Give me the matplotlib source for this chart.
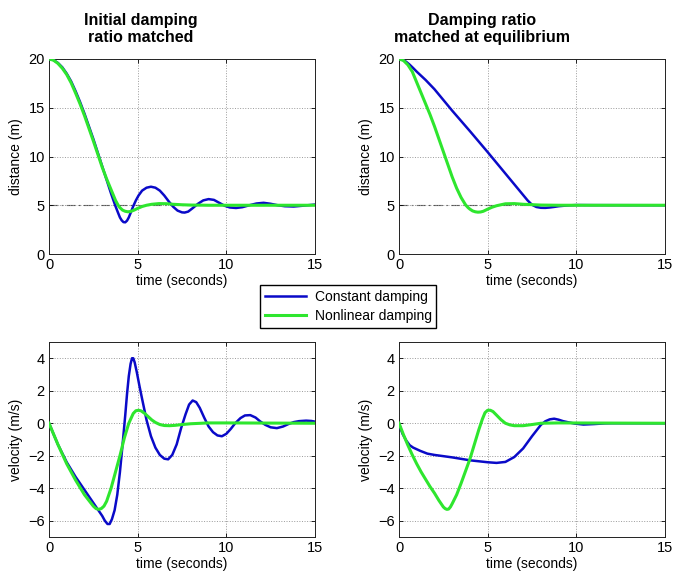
import matplotlib
matplotlib.use("Agg")
import matplotlib.pyplot as plt

plt.rcParams['font.family'] = ['Liberation Sans', 'DejaVu Sans']

# colours
BLUE = '#0a0ac8'
GREEN = '#2ee62e'

# --- top left: distance, initial damping ratio matched ---
tl_const_t = [0, 0.25, 0.5, 0.75, 1.0, 1.25, 1.5, 1.75, 2.0, 2.25, 2.5, 2.75, 3.0, 3.25, 3.5,
              3.75, 3.9, 4.0, 4.1, 4.2, 4.3, 4.4, 4.5, 4.6, 4.75, 4.9, 5.05, 5.25, 5.5, 5.75,
              6.0, 6.25, 6.5, 6.75, 7.0, 7.25, 7.5, 7.65, 7.85, 8.1, 8.4, 8.7, 9.0, 9.3, 9.6,
              9.9, 10.2, 10.55, 10.9, 11.3, 11.7, 12.1, 12.5, 12.9, 13.3, 13.8, 14.3, 15.0]
tl_const_x = [20, 19.9, 19.6, 19.15, 18.5, 17.7, 16.7, 15.6, 14.4, 13.1, 11.8, 10.4, 9.0, 7.6, 6.2,
              4.9, 4.2, 3.75, 3.45, 3.27, 3.25, 3.42, 3.75, 4.2, 4.9, 5.5, 6.0, 6.5, 6.8, 6.9,
              6.8, 6.5, 6.0, 5.4, 4.85, 4.45, 4.27, 4.25, 4.35, 4.7, 5.15, 5.5, 5.63, 5.55, 5.25,
              4.95, 4.77, 4.72, 4.8, 5.0, 5.18, 5.25, 5.15, 5.0, 4.9, 4.87, 4.95, 5.07]
tl_nonlin_t = [0, 0.25, 0.5, 0.75, 1.0, 1.25, 1.5, 1.75, 2.0, 2.25, 2.5, 2.75, 3.0, 3.25, 3.5,
               3.75, 3.9, 4.0, 4.15, 4.3, 4.45, 4.6, 4.8, 5.0, 5.25, 5.5, 5.8, 6.2, 6.6, 7.0,
               7.5, 8.0, 9.0, 15.0]
tl_nonlin_x = [20, 19.88, 19.55, 19.05, 18.4, 17.55, 16.5, 15.4, 14.2, 12.9, 11.6, 10.25, 8.9,
               7.7, 6.6, 5.5, 5.0, 4.75, 4.5, 4.38, 4.33, 4.36, 4.5, 4.68, 4.87, 5.0, 5.1, 5.17,
               5.16, 5.1, 5.05, 5.02, 5.0, 5.0]

# --- top right: distance, damping ratio matched at equilibrium ---
tr_const_t = [0, 0.2, 0.4, 0.6, 0.8, 1.0, 1.5, 2.0, 2.5, 3.0, 4.0, 5.0, 6.0, 6.5, 7.0, 7.25,
              7.5, 7.75, 8.0, 8.25, 8.5, 8.75, 9.0, 9.5, 10.0, 11.0, 15.0]
tr_const_x = [20, 19.92, 19.72, 19.42, 19.07, 18.7, 17.85, 16.9, 15.8, 14.7, 12.6, 10.45, 8.25,
              7.15, 6.05, 5.5, 5.05, 4.82, 4.74, 4.73, 4.77, 4.83, 4.9, 4.98, 5.02, 5.01, 5.0]
tr_nonlin_t = [0, 0.25, 0.5, 0.75, 1.0, 1.25, 1.5, 1.75, 2.0, 2.25, 2.5, 2.75, 3.0, 3.25,
               3.5, 3.75, 3.9, 4.0, 4.15, 4.3, 4.45, 4.6, 4.75, 5.0, 5.25, 5.5, 6.0, 6.5, 7.0,
               8.0, 9.0, 15.0]
tr_nonlin_x = [20, 19.85, 19.4, 18.7, 17.6, 16.5, 15.4, 14.3, 13.1, 11.8, 10.5, 9.2, 7.9, 6.75,
               5.8, 5.05, 4.75, 4.6, 4.42, 4.33, 4.29, 4.31, 4.38, 4.6, 4.8, 4.95, 5.15, 5.17,
               5.1, 5.02, 5.0, 5.0]

# --- bottom left: velocity, initial damping ratio matched ---
bl_const_t = [0, 0.5, 1.0, 1.5, 2.0, 2.5, 3.0, 3.15, 3.3, 3.42, 3.55, 3.7, 3.85, 4.0, 4.15,
              4.3, 4.4, 4.5, 4.6, 4.68, 4.75, 4.83, 4.95, 5.1, 5.25, 5.5, 5.75, 6.0, 6.25,
              6.5, 6.72, 6.95, 7.2, 7.45, 7.7, 7.9, 8.1, 8.3, 8.5, 8.75, 9.0, 9.25, 9.5, 9.75,
              10.0, 10.25, 10.5, 10.8, 11.05, 11.35, 11.65, 11.9, 12.2, 12.5, 12.85, 13.2,
              13.5, 13.8, 14.1, 14.5, 14.8, 15.0]
bl_const_v = [0, -1.3, -2.4, -3.3, -4.1, -4.9, -5.7, -6.0, -6.2, -6.2, -5.9, -5.35, -4.4, -3.0,
              -1.3, 0.5, 1.8, 2.9, 3.65, 4.0, 4.0, 3.75, 3.15, 2.3, 1.5, 0.2, -0.8, -1.5, -1.95,
              -2.18, -2.22, -1.95, -1.3, -0.3, 0.55, 1.15, 1.4, 1.3, 0.95, 0.35, -0.2, -0.55,
              -0.75, -0.8, -0.65, -0.35, 0.0, 0.32, 0.48, 0.5, 0.35, 0.12, -0.1, -0.25, -0.3,
              -0.2, -0.05, 0.07, 0.13, 0.16, 0.14, 0.1]
bl_nonlin_t = [0, 0.5, 1.0, 1.5, 2.0, 2.5, 2.65, 2.8, 2.95, 3.1, 3.25, 3.5, 3.75, 4.0, 4.25,
               4.5, 4.75, 4.9, 5.05, 5.2, 5.4, 5.6, 5.8, 6.0, 6.25, 6.5, 6.8, 7.1, 7.5, 8.0,
               9.0, 10.0, 15.0]
bl_nonlin_v = [0, -1.3, -2.5, -3.5, -4.4, -5.1, -5.25, -5.3, -5.25, -5.1, -4.8, -4.0, -3.0,
               -2.0, -0.9, 0.0, 0.6, 0.77, 0.8, 0.76, 0.6, 0.4, 0.2, 0.05, -0.08, -0.14, -0.15,
               -0.13, -0.08, -0.03, 0.02, 0.02, 0.0]

# --- bottom right: velocity, damping ratio matched at equilibrium ---
br_const_t = [0, 0.1, 0.2, 0.4, 0.6, 0.8, 1.2, 1.6, 2.0, 3.0, 4.0, 5.0, 5.5, 6.0, 6.5, 7.0,
              7.5, 7.75, 8.0, 8.25, 8.5, 8.75, 9.0, 9.25, 9.5, 9.9, 10.4, 11.0, 11.6, 12.0, 15.0]
br_const_v = [0, -0.35, -0.65, -1.05, -1.35, -1.5, -1.7, -1.87, -1.95, -2.1, -2.28, -2.4, -2.44,
              -2.38, -2.08, -1.55, -0.8, -0.45, -0.1, 0.12, 0.24, 0.28, 0.22, 0.13, 0.07, -0.02,
              -0.08, -0.05, -0.01, 0.0, 0.0]
br_nonlin_t = [0, 0.25, 0.5, 0.75, 1.0, 1.25, 1.5, 1.75, 2.0, 2.25, 2.5, 2.6, 2.7, 2.8, 2.9,
               3.0, 3.25, 3.5, 3.75, 4.0, 4.25, 4.5, 4.7, 4.85, 5.0, 5.15, 5.3, 5.5, 5.75, 6.0,
               6.25, 6.5, 7.0, 7.5, 8.0, 9.0, 15.0]
br_nonlin_v = [0, -0.7, -1.35, -1.95, -2.5, -3.0, -3.45, -3.9, -4.3, -4.75, -5.15, -5.25, -5.3,
               -5.28, -5.15, -4.95, -4.4, -3.7, -2.95, -2.2, -1.3, -0.4, 0.25, 0.65, 0.8, 0.8,
               0.72, 0.5, 0.22, 0.0, -0.1, -0.15, -0.15, -0.08, 0.0, 0.02, 0.0]

equilibrium = 5
titles = ['Initial damping\nratio matched', 'Damping ratio\nmatched at equilibrium']

fig = plt.figure(figsize=(6.73, 5.73), dpi=100)
W, H = 673, 573


def make_ax(left, top, right, bottom):
    return fig.add_axes([left / W, 1 - bottom / H, (right - left) / W, (bottom - top) / H])


ax_tl = make_ax(49, 59, 315, 254)
ax_tr = make_ax(399, 59, 665, 254)
ax_bl = make_ax(49, 342, 315, 537)
ax_br = make_ax(399, 342, 665, 537)

for ax in (ax_tl, ax_tr):
    ax.axhline(equilibrium, color='#555555', lw=0.8, ls=(0, (8, 3, 1.5, 3)), zorder=1)

lc, = ax_tl.plot(tl_const_t, tl_const_x, color=BLUE, lw=1.8, zorder=3)
ln, = ax_tl.plot(tl_nonlin_t, tl_nonlin_x, color=GREEN, lw=2.2, zorder=4)
ax_tr.plot(tr_const_t, tr_const_x, color=BLUE, lw=1.8, zorder=3)
ax_tr.plot(tr_nonlin_t, tr_nonlin_x, color=GREEN, lw=2.2, zorder=4)
ax_bl.plot(bl_const_t, bl_const_v, color=BLUE, lw=1.8, zorder=3)
ax_bl.plot(bl_nonlin_t, bl_nonlin_v, color=GREEN, lw=2.2, zorder=4)
ax_br.plot(br_const_t, br_const_v, color=BLUE, lw=1.8, zorder=3)
ax_br.plot(br_nonlin_t, br_nonlin_v, color=GREEN, lw=2.2, zorder=4)

for ax in (ax_tl, ax_tr, ax_bl, ax_br):
    ax.set_xlim(0, 15)
    ax.set_xticks([0, 5, 10, 15])
    ax.set_xlabel('time (seconds)', fontsize=10, labelpad=1)
    ax.grid(True, ls=':', color='#9a9a9a', lw=0.7)
    ax.tick_params(direction='in', top=True, right=True, length=3, width=0.6,
                   labelsize=10.5, pad=3)
    for s in ax.spines.values():
        s.set_linewidth(0.7)
        s.set_color('#222222')

for ax in (ax_tl, ax_tr):
    ax.set_ylim(0, 20)
    ax.set_yticks([0, 5, 10, 15, 20])
    ax.set_ylabel('distance (m)', fontsize=10, labelpad=4)

for ax in (ax_bl, ax_br):
    ax.set_ylim(-7, 5)
    ax.set_yticks([-6, -4, -2, 0, 2, 4])
    ax.set_ylabel('velocity (m/s)', fontsize=10, labelpad=4)

fig.text(141 / W, 1 - 29 / H, titles[0], ha='center', va='center',
         fontsize=11.5, fontweight='bold')
fig.text(482 / W, 1 - 29 / H, titles[1], ha='center', va='center',
         fontsize=11.5, fontweight='bold')

fig.legend([lc, ln], ['Constant damping', 'Nonlinear damping'], loc='center',
           bbox_to_anchor=(348 / W, 1 - 306.5 / H), fontsize=10, frameon=True,
           fancybox=False, edgecolor='black', framealpha=1, handlelength=3,
           labelspacing=0.35, borderpad=0.35, handletextpad=0.6)

fig.savefig('out.png', dpi=100)
